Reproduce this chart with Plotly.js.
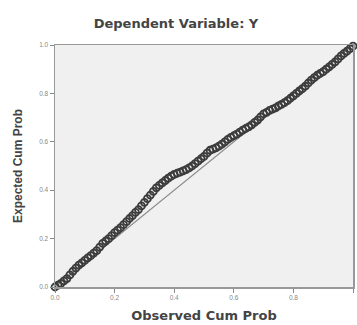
<!DOCTYPE html>
<html>
<head>
<meta charset="utf-8">
<script src="https://cdn.plot.ly/plotly-3.0.1.min.js"></script>
<style>html,body{margin:0;padding:0;background:#fff;}#chart{width:357px;height:325px;}</style>
</head>
<body>
<div id="chart"></div>
<script>
var observedCumProb = [0.00,0.01,0.02,0.03,0.04,0.05,0.06,0.07,0.08,0.09,0.10,0.11,0.12,0.13,0.14,0.15,0.16,0.17,0.18,0.19,0.20,0.21,0.22,0.23,0.24,0.25,0.26,0.27,0.28,0.29,0.30,0.31,0.32,0.33,0.34,0.35,0.36,0.37,0.38,0.39,0.40,0.41,0.42,0.43,0.44,0.45,0.46,0.47,0.48,0.49,0.50,0.51,0.52,0.53,0.54,0.55,0.56,0.57,0.58,0.59,0.60,0.61,0.62,0.63,0.64,0.65,0.66,0.67,0.68,0.69,0.70,0.71,0.72,0.73,0.74,0.75,0.76,0.77,0.78,0.79,0.80,0.81,0.82,0.83,0.84,0.85,0.86,0.87,0.88,0.89,0.90,0.91,0.92,0.93,0.94,0.95,0.96,0.97,0.98,0.99,1.00];
var expectedCumProb = [0.000,0.008,0.015,0.025,0.035,0.050,0.065,0.078,0.090,0.100,0.110,0.120,0.130,0.140,0.150,0.165,0.180,0.190,0.200,0.212,0.225,0.235,0.245,0.258,0.270,0.283,0.295,0.308,0.320,0.335,0.350,0.365,0.380,0.395,0.410,0.420,0.430,0.440,0.450,0.458,0.465,0.470,0.475,0.480,0.485,0.492,0.500,0.510,0.520,0.530,0.540,0.553,0.565,0.570,0.575,0.582,0.590,0.600,0.610,0.618,0.625,0.632,0.640,0.648,0.655,0.662,0.670,0.680,0.690,0.703,0.715,0.722,0.730,0.735,0.740,0.748,0.755,0.762,0.770,0.780,0.790,0.800,0.810,0.820,0.830,0.843,0.855,0.865,0.875,0.883,0.890,0.900,0.910,0.920,0.930,0.943,0.955,0.965,0.975,0.985,0.995];
var refLineX = [0, 1];
var refLineY = [0, 1];
var tickVals = [0, 0.2, 0.4, 0.6, 0.8, 1.0];
var tickText = ["0.0", "0.2", "0.4", "0.6", "0.8", "1.0"];

var traces = [
  {x: refLineX, y: refLineY, mode: 'lines', line: {color: '#8a8a8a', width: 1.2}, hoverinfo: 'skip', showlegend: false},
  {x: observedCumProb, y: expectedCumProb, mode: 'markers', cliponaxis: false,
   marker: {symbol: 'circle-open', size: 7, color: '#3c3c3c', line: {width: 1.8, color: '#3c3c3c'}}, showlegend: false}
];
var axisCommon = {
  range: [0, 1], tickvals: tickVals, ticktext: tickText, ticks: 'outside', ticklen: 4, tickcolor: '#888',
  tickfont: {family: 'Arial, Liberation Sans', size: 6.5, color: '#888'},
  showline: true, linecolor: '#999', linewidth: 1.5, mirror: true, showgrid: false, zeroline: false, fixedrange: true
};
var layout = {
  width: 357, height: 325,
  margin: {l: 55, r: 4, t: 45, b: 38},
  paper_bgcolor: '#ffffff', plot_bgcolor: '#f0f0f0',
  title: {text: '<b>Dependent Variable: Y</b>', x: 0.493, xanchor: 'center', y: 0.929, yanchor: 'middle',
          font: {family: 'DejaVu Sans', size: 13, color: '#444'}},
  xaxis: Object.assign({}, axisCommon, {title: {text: '<b>Observed Cum Prob</b>', standoff: 10, font: {family: 'DejaVu Sans', size: 13, color: '#444'}}}),
  yaxis: Object.assign({}, axisCommon, {title: {text: '<b>Expected Cum Prob</b>', standoff: 14, font: {family: 'Arial, Liberation Sans', size: 12, color: '#444'}}})
};
Plotly.newPlot('chart', traces, layout, {displayModeBar: false, staticPlot: true});
</script>
</body>
</html>
